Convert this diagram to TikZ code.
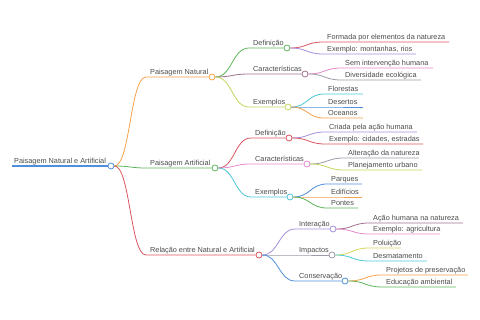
\documentclass[tikz,border=0pt]{standalone}
\usepackage{fontspec}
\setmainfont{Liberation Sans}
\usetikzlibrary{calc}
\definecolor{cBlue}{HTML}{4F8FDB}
\definecolor{cOrange}{HTML}{F5A24B}
\definecolor{cGreen}{HTML}{5DB55D}
\definecolor{cRed}{HTML}{D9545F}
\definecolor{cLav}{HTML}{A68FDB}
\definecolor{cMauve}{HTML}{A0708F}
\definecolor{cYG}{HTML}{C5D65A}
\definecolor{cCyan}{HTML}{4CC5D5}
\definecolor{cPink}{HTML}{E58ACB}
\definecolor{cGray}{HTML}{A09AA8}
\definecolor{cYellow}{HTML}{D7D65A}
\definecolor{cText}{HTML}{4A4A4A}
\tikzset{
  cnode/.style={circle,fill=white,inner sep=0pt,minimum size=6pt,line width=0.8pt},
  lbl/.style={anchor=base west,inner sep=0pt,text=cText,font=\fontsize{7.3}{9}\selectfont},
  edge/.style={line width=0.8pt},
  sc/.style={to path={let \p1=(\tikztostart), \p2=(\tikztotarget) in
     .. controls ({(\x1+\x2)/2},\y1) and ({(\x1+\x2)/2},\y2) .. (\tikztotarget)}}
}
% parent, name, color, startx, y, circlex, text
\newcommand\mmid[7]{%
  \node[cnode,draw=#3] (#2) at (#6,#5) {};
  \coordinate (#2-s) at (#4,#5);
  \node[lbl] (#2-t) at ({#4+4},{#5-2.5}) {#7};
  \draw[edge,#3] (#1.east) to[sc] (#2-s) -- (#2.west);
}
% parent, name, color, startx, y, endx, text
\newcommand\mleaf[7]{%
  \coordinate (#2-s) at (#4,#5);
  \coordinate (#2-e) at (#6,#5);
  \node[lbl] (#2-t) at ({#4+4},{#5-2.8}) {#7};
  \draw[edge,#3] (#1.east) to[sc] (#2-s) -- (#2-e);
}
\begin{document}
\begin{tikzpicture}[x=1pt,y=-1pt]
\useasboundingbox (0,0) rectangle (480,320);
% root
\node[cnode,draw=cBlue] (root) at (111,166) {};
\coordinate (root-s) at (12,166);
\node[lbl] (root-t) at (14,163.3) {Paisagem Natural e Artificial};
\draw[line width=1.2pt,draw=cBlue] (root-s) -- (root.west);
% level 1
\mmid{root}{nat}{cOrange}{146}{77}{212}{Paisagem Natural}
\mmid{root}{art}{cGreen}{146}{168}{215}{Paisagem Artificial}
\mmid{root}{rel}{cRed}{146}{255}{259}{Relação entre Natural e Artificial}
% level 2 natural
\mmid{nat}{ndef}{cGreen}{249}{48}{287}{Definição}
\mmid{nat}{ncar}{cMauve}{249}{74}{305}{Características}
\mmid{nat}{nex}{cYG}{249}{107}{288}{Exemplos}
\mleaf{ndef}{l1}{cRed}{323}{42}{449}{Formada por elementos da natureza}
\mleaf{ndef}{l2}{cLav}{323}{54}{416}{Exemplo: montanhas, rios}
\mleaf{ncar}{l3}{cPink}{341}{68}{433}{Sem intervenção humana}
\mleaf{ncar}{l4}{cGray}{341}{80}{421}{Diversidade ecológica}
\mleaf{nex}{l5}{cCyan}{324}{94}{363}{Florestas}
\mleaf{nex}{l6}{cBlue}{324}{107}{363}{Desertos}
\mleaf{nex}{l7}{cOrange}{324}{118}{363}{Oceanos}
% level 2 artificial
\mmid{art}{adef}{cRed}{251}{138}{289}{Definição}
\mmid{art}{acar}{cPink}{251}{164}{307}{Características}
\mmid{art}{aex}{cCyan}{251}{197}{290}{Exemplos}
\mleaf{adef}{l8}{cLav}{325}{132}{417}{Criada pela ação humana}
\mleaf{adef}{l9}{cRed}{325}{144}{423}{Exemplo: cidades, estradas}
\mleaf{acar}{l10}{cGray}{344}{158}{419}{Alteração da natureza}
\mleaf{acar}{l11}{cYG}{344}{170}{422}{Planejamento urbano}
\mleaf{aex}{l12}{cBlue}{327}{184}{362}{Parques}
\mleaf{aex}{l13}{cOrange}{327}{197}{362}{Edifícios}
\mleaf{aex}{l14}{cGreen}{327}{208}{358}{Pontes}
% level 2 relacao
\mmid{rel}{rint}{cLav}{295}{229}{333}{Interação}
\mmid{rel}{rimp}{cGray}{295}{255}{332}{Impactos}
\mmid{rel}{rcon}{cBlue}{295}{281}{345}{Conservação}
\mleaf{rint}{l15}{cMauve}{369}{223}{463}{Ação humana na natureza}
\mleaf{rint}{l16}{cPink}{369}{234}{440}{Exemplo: agricultura}
\mleaf{rimp}{l17}{cYellow}{369}{248}{401}{Poluição}
\mleaf{rimp}{l18}{cCyan}{369}{261}{427}{Desmatamento}
\mleaf{rcon}{l19}{cOrange}{382}{275}{468}{Projetos de preservação}
\mleaf{rcon}{l20}{cGreen}{382}{287}{456}{Educação ambiental}
\end{tikzpicture}
\end{document}
